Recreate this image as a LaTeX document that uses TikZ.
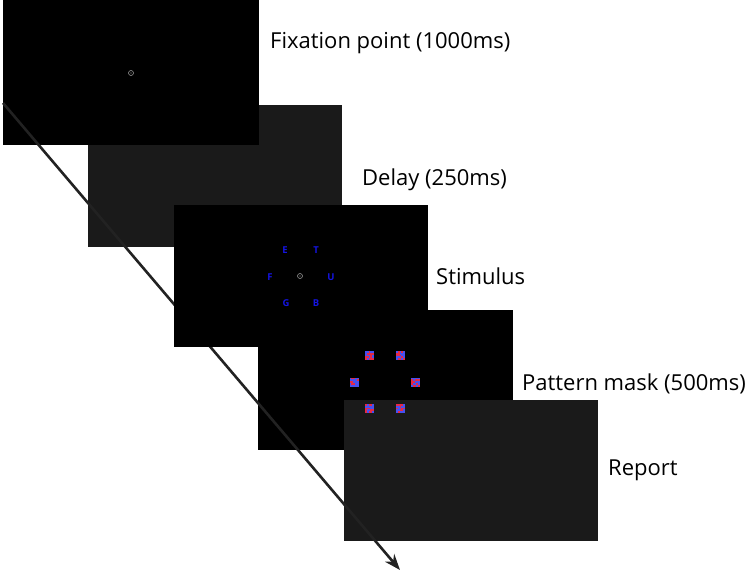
\documentclass[tikz,border=0pt]{standalone}
\usepackage{fontspec}
\setmainfont{Open Sans}
\usetikzlibrary{arrows.meta}
\definecolor{scrGray}{RGB}{26,26,26}
\definecolor{ink}{RGB}{34,34,34}
\definecolor{letBlue}{RGB}{20,20,225}
\definecolor{fixGray}{RGB}{150,150,150}
\definecolor{mRed}{RGB}{230,40,70}
\definecolor{mBlue}{RGB}{70,80,240}

\pgfmathdeclarerandomlist{maskcols}{{mRed}{mBlue}}
% one 9x9 noise square, centred at #1,#2
\newcommand{\maskpatch}[2]{%
  \foreach \i in {0,...,4}{\foreach \j in {0,...,4}{%
    \pgfmathrandomitem{\mc}{maskcols}%
    \fill[\mc] ({#1-4.5+1.8*\i},{#2-4.5+1.8*\j}) rectangle ++(1.8,1.8);}}}

\begin{document}
\begin{tikzpicture}[
  x=1pt, y=-1pt,
  >={Stealth[length=16pt, width=12pt]},
  screen/.style={inner sep=0pt, minimum width=255pt, minimum height=142pt, anchor=north west},
  dark/.style={screen, fill=black},
  dim/.style={screen, fill=scrGray},
  lbl/.style={anchor=west, inner sep=0pt, font=\fontsize{22}{26}\selectfont, text=black},
  fixdot/.style={circle, draw=fixGray, line width=0.6pt, minimum size=5pt, inner sep=0pt},
  letter/.style={inner sep=0pt, font=\bfseries\fontsize{9.5}{10}\selectfont, text=letBlue},
]
\useasboundingbox (0,0) rectangle (749,571);
\pgfmathsetseed{4117}

% ---- screens: delay under fixation, arrow under the stimulus screen ----
\node[dim, minimum width=254pt] (S2) at (88,105) {};
\node[dark, minimum width=256pt, minimum height=145pt] (S1) at (3,0) {};
\node[dark, minimum height=140pt] (S4) at (258,310) {};
\node[dim, minimum width=254pt, minimum height=141pt] (S5) at (344,400) {};

% ---- time arrow ----
\coordinate (tStart) at (3,103);
\coordinate (tEnd) at (400,570);
\draw[->, ink, line width=2.6pt] (tStart) -- (tEnd);

\node[dark, minimum width=254pt] (S3) at (174,205) {};

% ---- fixation ----
\node[fixdot] (F1) at (131,73) {};
\fill[fixGray] (F1) circle (0.7pt);

% ---- stimulus ----
\node[fixdot] (F3) at (300,276) {};
\fill[fixGray] (F3) circle (0.7pt);
\node[letter] (lE) at (285,250) {E};
\node[letter] (lT) at (316,250) {T};
\node[letter] (lF) at (270,277) {F};
\node[letter] (lU) at (331,277) {U};
\node[letter] (lG) at (286,303) {G};
\node[letter] (lB) at (316,303) {B};

% ---- pattern mask ----
\maskpatch{369.5}{355.5}
\maskpatch{400.5}{355.5}
\maskpatch{354}{382}
\maskpatch{415.5}{382}
\maskpatch{369.5}{408.5}
\maskpatch{400.5}{408.5}

% ---- labels ----
\node[lbl] (L1) at (270,43) {Fixation point (1000ms)};
\node[lbl] (L2) at (362,180) {Delay (250ms)};
\node[lbl] (L3) at (436,276) {Stimulus};
\node[lbl] (L4) at (522,384) {Pattern mask (500ms)};
\node[lbl] (L5) at (608,470) {Report};

\end{tikzpicture}
\end{document}
